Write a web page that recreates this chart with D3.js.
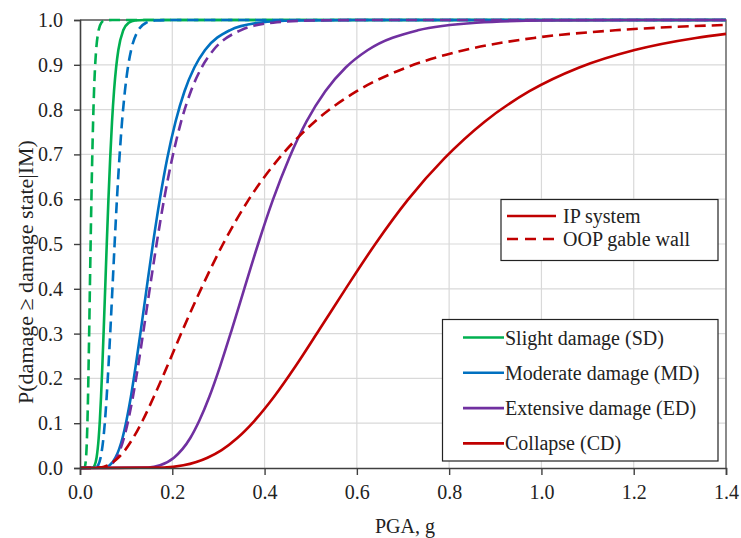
<!DOCTYPE html>
<html>
<head>
<meta charset="utf-8">
<script src="https://cdn.jsdelivr.net/npm/d3@7"></script>
<style>
  body { margin: 0; background: #fff; }
  svg { display: block; }
</style>
</head>
<body>
<div id="chart"></div>
<script>
// ---- Data ----
const xTickValues = [0.0, 0.2, 0.4, 0.6, 0.8, 1.0, 1.2, 1.4];
const yTickValues = [0.0, 0.1, 0.2, 0.3, 0.4, 0.5, 0.6, 0.7, 0.8, 0.9, 1.0];
const xTitle = "PGA, g";
const yTitle = "P(damage \u2265 damage state|IM)";

const damageStates = ["Slight damage (SD)", "Moderate damage (MD)", "Extensive damage (ED)", "Collapse (CD)"];
const stateColors = ["#00b050", "#0070c0", "#7030a0", "#c00000"];
const systems = ["IP system", "OOP gable wall"];

// IP system curves [PGA, probability]
const SD_IP = [[0,0],[0.0282,0.001],[0.0318,0.006],[0.0359,0.023],[0.0405,0.067],[0.043,0.106],[0.0456,0.159],[0.0484,0.227],[0.0514,0.309],[0.0546,0.401],[0.058,0.5],[0.0616,0.599],[0.0654,0.691],[0.0694,0.773],[0.0737,0.841],[0.0783,0.894],[0.0831,0.933],[0.0937,0.977],[0.1057,0.994],[0.119,0.999],[0.14,1.0],[1.4,1.0]];
const MD_IP = [[0,0],[0.0537,0.001],[0.0642,0.006],[0.0769,0.023],[0.0921,0.067],[0.1007,0.106],[0.1103,0.159],[0.1206,0.227],[0.132,0.309],[0.1444,0.401],[0.158,0.5],[0.1729,0.599],[0.189,0.691],[0.207,0.773],[0.2265,0.841],[0.2478,0.894],[0.271,0.933],[0.3245,0.977],[0.3886,0.994],[0.465,0.999],[0.6,1.0],[1.4,1.0]];
const ED_IP = [[0,0],[0.148,0.001],[0.1734,0.006],[0.2035,0.023],[0.239,0.067],[0.2587,0.106],[0.2803,0.159],[0.3036,0.227],[0.329,0.309],[0.3563,0.401],[0.386,0.5],[0.4182,0.599],[0.453,0.691],[0.4907,0.773],[0.5316,0.841],[0.5758,0.894],[0.6238,0.933],[0.732,0.977],[0.859,0.994],[1.008,0.999],[1.2,1.0],[1.4,1.0]];
const CD_IP = [[0,0],[0.1816,0.001],[0.224,0.006],[0.2763,0.023],[0.3069,0.04],[0.3409,0.067],[0.3786,0.106],[0.4205,0.159],[0.467,0.227],[0.5188,0.309],[0.5762,0.401],[0.64,0.5],[0.7108,0.599],[0.7896,0.691],[0.8769,0.773],[0.974,0.841],[1.082,0.894],[1.202,0.933],[1.3347,0.96],[1.4,0.969]];

// OOP gable wall curves [PGA, probability]
const SD_OOP = [[0,0],[0.0099,0.001],[0.0131,0.023],[0.0151,0.067],[0.0162,0.106],[0.0174,0.159],[0.0186,0.227],[0.02,0.309],[0.0214,0.401],[0.023,0.5],[0.0247,0.599],[0.0265,0.691],[0.0284,0.773],[0.0304,0.841],[0.0326,0.894],[0.035,0.933],[0.0403,0.977],[0.0463,0.994],[0.0533,0.999],[0.07,1.0],[1.4,1.0]];
const MD_OOP = [[0,0],[0.0344,0.001],[0.0392,0.006],[0.0446,0.023],[0.0508,0.067],[0.0542,0.106],[0.0578,0.159],[0.0617,0.227],[0.0659,0.309],[0.0703,0.401],[0.075,0.5],[0.08,0.599],[0.0854,0.691],[0.0911,0.773],[0.0973,0.841],[0.1038,0.894],[0.1108,0.933],[0.1262,0.977],[0.1437,0.994],[0.1636,0.999],[0.2,1.0],[1.4,1.0]];
const ED_OOP = [[0,0],[0.0547,0.001],[0.0658,0.006],[0.0792,0.023],[0.0953,0.067],[0.1045,0.106],[0.1147,0.159],[0.1258,0.227],[0.138,0.309],[0.1513,0.401],[0.166,0.5],[0.1821,0.599],[0.1997,0.691],[0.2191,0.773],[0.2403,0.841],[0.2636,0.894],[0.2892,0.933],[0.348,0.977],[0.4187,0.994],[0.5037,0.999],[0.65,1.0],[1.4,1.0]];
const CD_OOP = [[0,0],[0.0428,0.001],[0.0595,0.006],[0.0828,0.023],[0.0977,0.04],[0.1152,0.067],[0.1358,0.106],[0.16,0.159],[0.189,0.227],[0.2229,0.309],[0.2629,0.401],[0.31,0.5],[0.3656,0.599],[0.4312,0.691],[0.5085,0.773],[0.5998,0.841],[0.7074,0.894],[0.8343,0.933],[0.984,0.96],[1.16,0.977],[1.4,0.989]];

// ---- Build series table ----
const ipCurves = [SD_IP, MD_IP, ED_IP, CD_IP];
const oopCurves = [SD_OOP, MD_OOP, ED_OOP, CD_OOP];
const series = [];
damageStates.forEach((s, i) => {
  series.push({ state: s, color: stateColors[i], dashed: true, pts: oopCurves[i] });
  series.push({ state: s, color: stateColors[i], dashed: false, pts: ipCurves[i] });
});

// ---- Layout ----
const FONT = "'Liberation Serif', 'Times New Roman', Times, 'DejaVu Serif', serif";
const W = 741, H = 538;
const margin = { left: 80, right: 15, top: 20, bottom: 70 };
const x = d3.scaleLinear().domain([0, 1.4]).range([margin.left, W - margin.right]);
const y = d3.scaleLinear().domain([0, 1]).range([H - margin.bottom, margin.top]);

const svg = d3.select("#chart").append("svg").attr("width", W).attr("height", H)
  .attr("font-family", FONT);

// gridlines
svg.append("g").selectAll("line").data(yTickValues.slice(1)).join("line")
  .attr("x1", x(0)).attr("x2", x(1.4)).attr("y1", d => y(d)).attr("y2", d => y(d))
  .attr("stroke", "#d9d9d9").attr("stroke-width", 1.2);
svg.append("g").selectAll("line").data(xTickValues.slice(1)).join("line")
  .attr("x1", d => x(d)).attr("x2", d => x(d)).attr("y1", y(0)).attr("y2", y(1))
  .attr("stroke", "#d9d9d9").attr("stroke-width", 1.2);

// plot border (top/right)
svg.append("path")
  .attr("d", `M${x(0)},${y(1)}H${x(1.4)}V${y(0)}`)
  .attr("fill", "none").attr("stroke", "#595959").attr("stroke-width", 1.3);

// curves
const line = d3.line().x(d => x(d[0])).y(d => y(d[1])).curve(d3.curveMonotoneX);
svg.append("g").selectAll("path").data(series).join("path")
  .attr("d", d => line(d.pts))
  .attr("fill", "none")
  .attr("stroke", d => d.color)
  .attr("stroke-width", 2.6)
  .attr("stroke-dasharray", d => d.dashed ? "11,6" : null);

// axes
const fmt = d3.format(".1f");
const xAxis = svg.append("g").attr("transform", `translate(0,${y(0)})`)
  .call(d3.axisBottom(x).tickValues(xTickValues).tickFormat(fmt).tickSize(7).tickPadding(10));
const yAxis = svg.append("g").attr("transform", `translate(${x(0)},0)`)
  .call(d3.axisLeft(y).tickValues(yTickValues).tickFormat(fmt).tickSize(6).tickPadding(11));
[xAxis, yAxis].forEach(a => {
  a.attr("font-family", FONT).attr("font-size", 20);
  a.select(".domain").attr("stroke", "#404040").attr("stroke-width", 1.6);
  a.selectAll(".tick line").attr("stroke", "#404040").attr("stroke-width", 1.4);
  a.selectAll(".tick text").attr("fill", "#222");
});

// titles
svg.append("text").attr("x", 405).attr("y", 533)
  .attr("text-anchor", "middle").attr("font-size", 20).attr("fill", "#222").text(xTitle);
svg.append("text").attr("transform", `translate(33,272) rotate(-90)`)
  .attr("text-anchor", "middle").attr("font-size", 22).attr("fill", "#222").text(yTitle);

// legend 1 (system type)
const lg1 = svg.append("g");
lg1.append("rect").attr("x", 501).attr("y", 199.5).attr("width", 217).attr("height", 61)
  .attr("fill", "#fff").attr("stroke", "#222").attr("stroke-width", 1.2);
systems.forEach((s, i) => {
  const yy = 216 + i * 23;
  lg1.append("line").attr("x1", 507).attr("x2", 556).attr("y1", yy).attr("y2", yy)
    .attr("stroke", stateColors[3]).attr("stroke-width", 2.6)
    .attr("stroke-dasharray", i === 1 ? "11,7" : null);
  lg1.append("text").attr("x", 563).attr("y", yy + 7).attr("font-size", 20).attr("fill", "#222").text(s);
});

// legend 2 (damage states)
const lg2 = svg.append("g");
lg2.append("rect").attr("x", 442.5).attr("y", 319.5).attr("width", 275.5).attr("height", 141.5)
  .attr("fill", "#fff").attr("stroke", "#222").attr("stroke-width", 1.2);
damageStates.forEach((s, i) => {
  const yy = 337.5 + i * 35.3;
  lg2.append("line").attr("x1", 463).attr("x2", 504).attr("y1", yy).attr("y2", yy)
    .attr("stroke", stateColors[i]).attr("stroke-width", 2.6);
  lg2.append("text").attr("x", 505).attr("y", yy + 7).attr("font-size", 20).attr("fill", "#222").text(s);
});
</script>
</body>
</html>
